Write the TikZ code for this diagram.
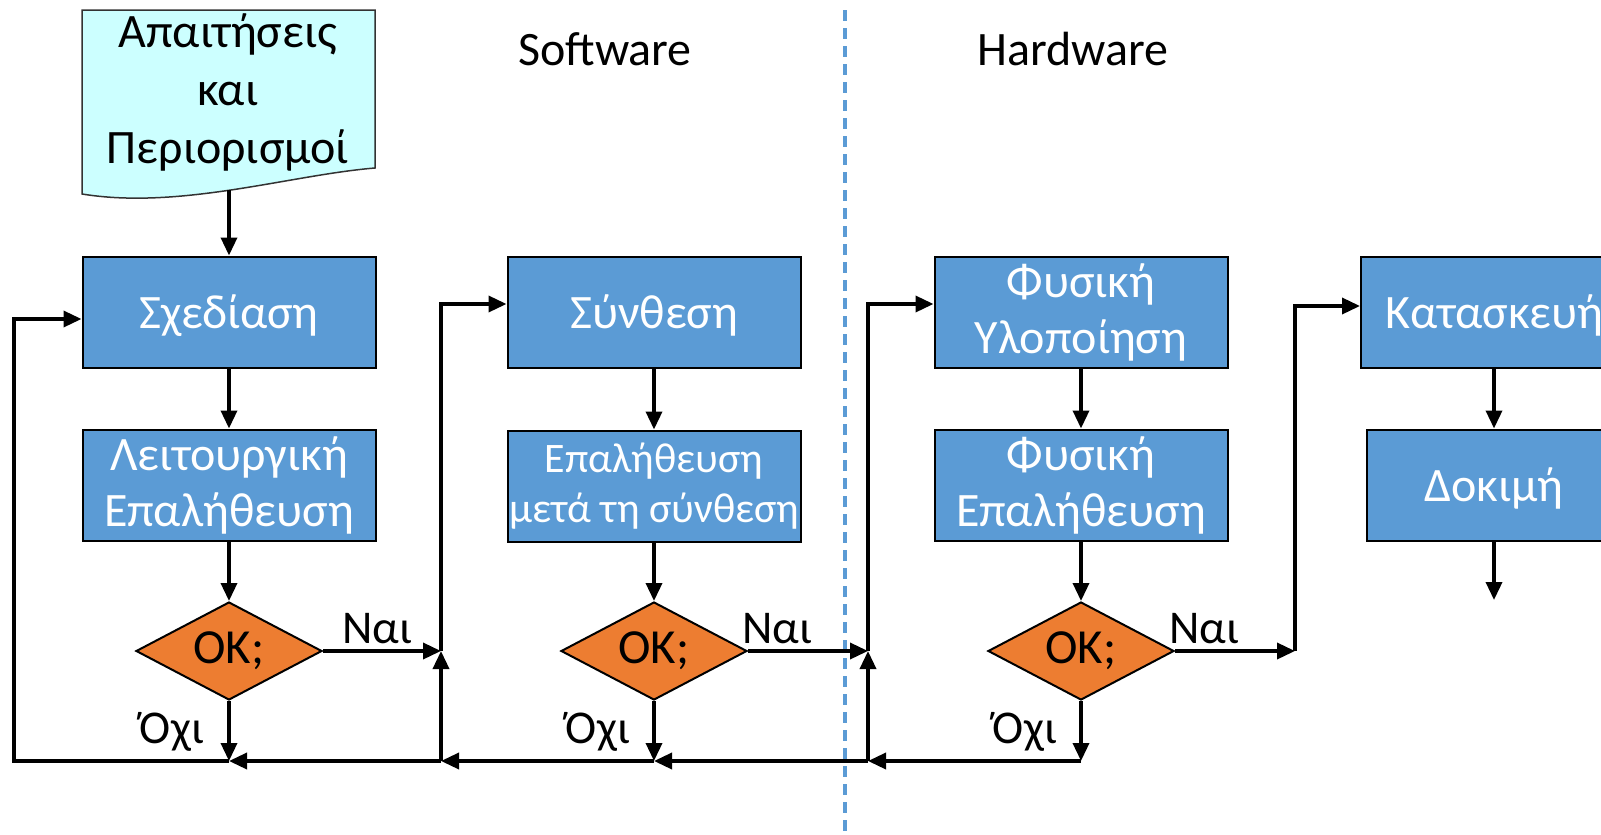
\documentclass[tikz,border=0pt]{standalone}
\usepackage{fontspec}
\setmainfont{Carlito}
\usetikzlibrary{shapes.geometric,arrows.meta}
\definecolor{boxblue}{HTML}{5B9BD5}
\definecolor{okorange}{HTML}{ED7D31}
\definecolor{reqcyan}{HTML}{CCFFFF}
\begin{document}
\begin{tikzpicture}[x=1pt,y=-1pt,
    stage/.style={draw=black,line width=2pt,fill=boxblue,text=white,align=center,
      minimum width=293pt,minimum height=111pt,inner sep=0pt,font=\fontsize{48}{56}\selectfont},
    oneline/.style={text height=41pt,text depth=8pt},
    okbox/.style={diamond,draw=black,line width=2pt,fill=okorange,aspect=1.9,
      minimum width=186pt,minimum height=98pt,inner sep=0pt,font=\fontsize{49}{56}\selectfont},
    lbl/.style={anchor=base,inner sep=0pt,font=\fontsize{47}{52}\selectfont},
    flow/.style={line width=3.5pt,-{Triangle[length=18pt,width=16pt]}},
    wire/.style={line width=3.5pt}]
  \useasboundingbox (0,0) rectangle (1601,835);
  \clip (0,0) rectangle (1601,835);

  \draw[boxblue,line width=4pt,dash pattern=on 11pt off 7pt] (845,10) -- (845,835);

  \draw[fill=reqcyan,draw=black!80,line width=1.5pt] (82,10) -- (375,10) -- (375,168)
    .. controls (290,175) and (180,210) .. (82,194) -- cycle;
  \node[align=center,inner sep=0pt,font=\fontsize{48}{58}\selectfont] (req) at (228,92) {Απαιτήσεις\\και\\Περιορισμοί};
  \coordinate (reqout) at (229,190);

  \node[lbl,font=\fontsize{48}{52}\selectfont] (sw) at (605,65) {Software};
  \node[lbl,font=\fontsize{48}{52}\selectfont] (hw) at (1073,65) {Hardware};

  \node[stage,oneline] (design) at (229,312) {Σχεδίαση};
  \node[stage] (funcver) at (229,485) {Λειτουργική\\Επαλήθευση};
  \node[okbox] (ok1) at (229,651) {OK;};

  \node[stage,oneline] (synth) at (654,312) {Σύνθεση};
  \node[stage,font=\fontsize{42}{50}\selectfont] (postver) at (654,486) {Επαλήθευση\\μετά τη σύνθεση};
  \node[okbox] (ok2) at (654,651) {OK;};

  \node[stage] (phys) at (1081,312) {Φυσική\\Υλοποίηση};
  \node[stage] (physver) at (1081,485) {Φυσική\\Επαλήθευση};
  \node[okbox] (ok3) at (1081,651) {OK;};

  \node[stage,oneline,minimum width=266pt] (fab) at (1494,312) {Κατασκευή};
  \node[stage,oneline,minimum width=254pt] (test) at (1494,485) {Δοκιμή};
  \coordinate (finish) at (1494,600);

  \node[lbl] (yes1) at (377,643) {Ναι};
  \node[lbl] (yes2) at (777,643) {Ναι};
  \node[lbl] (yes3) at (1204,643) {Ναι};
  \node[lbl] (no1) at (172,743) {Όχι};
  \node[lbl] (no2) at (598,743) {Όχι};
  \node[lbl] (no3) at (1025,743) {Όχι};

  \coordinate (back1) at (14,761);
  \coordinate (j1) at (441,651);
  \coordinate (j2) at (868,651);
  \coordinate (j3) at (1295,651);
  \coordinate (low1) at (229,761);
  \coordinate (low2) at (654,761);
  \coordinate (low3) at (1081,761);
  \coordinate (lowj1) at (441,761);
  \coordinate (lowj2) at (868,761);

  \draw[flow] (reqout) -- (design.north);
  \draw[flow] (design) -- (funcver);
  \draw[flow] (funcver) -- (ok1);
  \draw[flow] (ok1.east) -- (j1);
  \draw[flow] (ok1.south) -- (low1);
  \draw[flow] (low1) -- (back1) |- ([yshift=-7pt]design.west);
  \draw[flow] (lowj1) -- (low1);

  \draw[flow] (synth) -- (postver);
  \draw[flow] (postver) -- (ok2);
  \draw[flow] (ok2.east) -- (j2);
  \draw[flow] (ok2.south) -- (low2);
  \draw[flow] (low2) -- (lowj1);
  \draw[flow] (lowj1) -- (j1);
  \draw[flow] (j1) |- ([yshift=8pt]synth.west);

  \draw[flow] (phys) -- (physver);
  \draw[flow] (physver) -- (ok3);
  \draw[flow] (ok3.east) -- (j3);
  \draw[flow] (ok3.south) -- (low3);
  \draw[flow] (low3) -- (lowj2);
  \draw[flow] (lowj2) -- (low2);
  \draw[flow] (lowj2) -- (j2);
  \draw[flow] (j2) |- ([yshift=8pt]phys.west);

  \draw[flow] (j3) |- ([yshift=6pt]fab.west);
  \draw[flow] (fab) -- (test);
  \draw[flow] (test) -- (finish);
\end{tikzpicture}
\end{document}
